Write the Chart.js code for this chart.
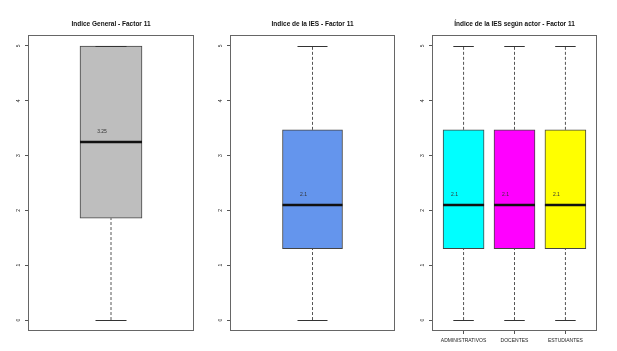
<!DOCTYPE html>
<html>
<head>
<meta charset="utf-8">
<script src="https://cdn.jsdelivr.net/npm/chart.js@4.4.0/dist/chart.umd.min.js"></script>
<style>
body { margin: 0; background: #fff; }
.panel { position: absolute; top: 0; height: 351px; }
</style>
</head>
<body>
<div class="panel" style="left:0px;width:205px"><canvas id="c1"></canvas></div>
<div class="panel" style="left:205px;width:205px"><canvas id="c2"></canvas></div>
<div class="panel" style="left:410px;width:207px"><canvas id="c3"></canvas></div>
<script>
// y axis ticks, shared by the three panels
var yTicks = [0, 1, 2, 3, 4, 5];

// Indice General - Factor 11
var generalMin = [0];
var generalQ1 = [1.86];
var generalMed = [3.25];
var generalQ3 = [5];
var generalMax = [5];

// Indice de la IES - Factor 11
var iesMin = [0];
var iesQ1 = [1.3];
var iesMed = [2.1];
var iesQ3 = [3.47];
var iesMax = [5];

// Indice de la IES segun actor - Factor 11
var actores = ['ADMINISTRATIVOS', 'DOCENTES', 'ESTUDIANTES'];
var actorMin = [0, 0, 0];
var actorQ1 = [1.3, 1.3, 1.3];
var actorMed = [2.1, 2.1, 2.1];
var actorQ3 = [3.47, 3.47, 3.47];
var actorMax = [5, 5, 5];

var FONT = '"Liberation Sans", Arial, sans-serif';

var boxExtras = {
  id: 'boxExtras',
  afterDatasetsDraw: function(chart, args, opts) {
    var ctx = chart.ctx;
    var xs = chart.scales.x, ys = chart.scales.y;
    var meta = chart.getDatasetMeta(0);
    var d = opts.d;
    ctx.save();
    for (var i = 0; i < d.pos.length; i++) {
      var x = xs.getPixelForValue(d.pos[i]);
      var half = meta.data[i].width / 2;
      // whiskers
      ctx.strokeStyle = '#555';
      ctx.lineWidth = 1;
      ctx.setLineDash([3, 2]);
      ctx.beginPath();
      ctx.moveTo(x, ys.getPixelForValue(d.min[i]));
      ctx.lineTo(x, ys.getPixelForValue(d.q1[i]));
      ctx.moveTo(x, ys.getPixelForValue(d.q3[i]));
      ctx.lineTo(x, ys.getPixelForValue(d.max[i]));
      ctx.stroke();
      ctx.setLineDash([]);
      // staples
      ctx.strokeStyle = '#333';
      ctx.beginPath();
      var yl = Math.round(ys.getPixelForValue(d.min[i])) + 0.5;
      var yh = Math.round(ys.getPixelForValue(d.max[i])) + 0.5;
      ctx.moveTo(x - half / 2, yl); ctx.lineTo(x + half / 2, yl);
      ctx.moveTo(x - half / 2, yh); ctx.lineTo(x + half / 2, yh);
      ctx.stroke();
      // median
      var ym = ys.getPixelForValue(d.med[i]);
      ctx.strokeStyle = '#111';
      ctx.lineWidth = 2.5;
      ctx.beginPath();
      ctx.moveTo(x - half, ym); ctx.lineTo(x + half, ym);
      ctx.stroke();
      // median label
      ctx.fillStyle = '#333';
      ctx.font = '5px ' + FONT;
      ctx.textAlign = 'center';
      ctx.textBaseline = 'middle';
      ctx.fillText(String(d.med[i]), x - 9, ys.getPixelForValue(d.med[i] + 0.18));
    }
    // plot frame
    var a = chart.chartArea;
    ctx.strokeStyle = '#666';
    ctx.lineWidth = 1;
    ctx.strokeRect(Math.round(a.left) + 0.5, Math.round(a.top) + 0.5,
      Math.round(a.right - a.left) - 1, Math.round(a.bottom - a.top) - 1);
    ctx.restore();
  }
};

function makeChart(id, d) {
  var data = [];
  for (var i = 0; i < d.pos.length; i++) {
    data.push({x: d.pos[i], y: [d.q1[i], d.q3[i]]});
  }
  var xScale = {
    type: 'linear', min: d.xMin, max: d.xMax, offset: false, display: d.showX,
    afterBuildTicks: function(s) { s.ticks = d.pos.map(function(v) { return {value: v}; }); },
    afterFit: function(s) { if (d.showX) s.height = 20; },
    ticks: {
      autoSkip: false, maxRotation: 0, padding: 4, color: '#222',
      font: {size: 5, family: FONT},
      callback: function(v) { return d.labels ? d.labels[d.pos.indexOf(v)] : ''; }
    },
    grid: {display: true, offset: false, drawOnChartArea: false, tickLength: 3, color: '#555'},
    border: {display: false}
  };
  return new Chart(document.getElementById(id), {
    type: 'bar',
    data: {
      datasets: [{
        data: data,
        backgroundColor: d.colors,
        borderColor: '#444',
        borderWidth: 1,
        borderSkipped: false,
        barThickness: d.barPx
      }]
    },
    options: {
      responsive: true,
      maintainAspectRatio: false,
      animation: false,
      layout: {padding: {left: 0, right: d.padRight, top: 0, bottom: d.showX ? 0 : 20}},
      scales: {
        x: xScale,
        y: {
          min: -0.2, max: 5.2,
          afterBuildTicks: function(s) { s.ticks = yTicks.map(function(v) { return {value: v}; }); },
          afterFit: function(s) { s.width = d.yWidth; },
          ticks: {minRotation: 90, maxRotation: 90, crossAlign: 'center', padding: 4.5,
            color: '#222', font: {size: 5, family: FONT}},
          grid: {display: true, drawOnChartArea: false, tickLength: 3, color: '#555'},
          border: {display: false}
        }
      },
      plugins: {
        legend: {display: false},
        tooltip: {enabled: false},
        title: {display: true, text: d.title, fullSize: false, color: '#111',
          font: {size: 6.5, weight: 'bold', family: FONT},
          padding: {top: 20.6, bottom: 6.6}},
        boxExtras: {d: d}
      }
    },
    plugins: [boxExtras]
  });
}

makeChart('c1', {
  title: 'Indice General - Factor 11',
  pos: [1], min: generalMin, q1: generalQ1, med: generalMed, q3: generalQ3, max: generalMax,
  colors: ['#BEBEBE'], barPx: 62, yWidth: 28, padRight: 11, xMin: 0.5, xMax: 1.5, showX: false
});

makeChart('c2', {
  title: 'Indice de la IES - Factor 11',
  pos: [1], min: iesMin, q1: iesQ1, med: iesMed, q3: iesQ3, max: iesMax,
  colors: ['#6495ED'], barPx: 60, yWidth: 25, padRight: 15, xMin: 0.5, xMax: 1.5, showX: false
});

makeChart('c3', {
  title: 'Índice de la IES según actor - Factor 11',
  pos: [1, 2, 3], labels: actores,
  min: actorMin, q1: actorQ1, med: actorMed, q3: actorQ3, max: actorMax,
  colors: ['#00FFFF', '#FF00FF', '#FFFF00'], barPx: 41, yWidth: 22, padRight: 20,
  xMin: 0.38, xMax: 3.62, showX: true
});
</script>
</body>
</html>
